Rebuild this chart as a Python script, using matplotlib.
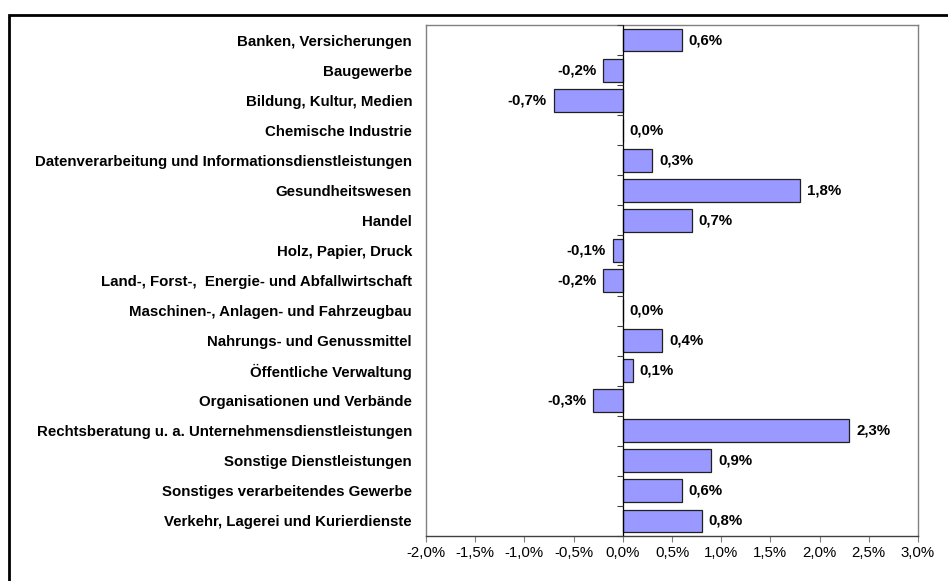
import numpy as np
import matplotlib.pyplot as plt
from matplotlib.patches import Rectangle
from matplotlib.ticker import FuncFormatter, MultipleLocator

plt.rcParams['font.family'] = ['Liberation Sans', 'DejaVu Sans']

branchen = [
    'Banken, Versicherungen',
    'Baugewerbe',
    'Bildung, Kultur, Medien',
    'Chemische Industrie',
    'Datenverarbeitung und Informationsdienstleistungen',
    'Gesundheitswesen',
    'Handel',
    'Holz, Papier, Druck',
    'Land-, Forst-,  Energie- und Abfallwirtschaft',
    'Maschinen-, Anlagen- und Fahrzeugbau',
    'Nahrungs- und Genussmittel',
    'Öffentliche Verwaltung',
    'Organisationen und Verbände',
    'Rechtsberatung u. a. Unternehmensdienstleistungen',
    'Sonstige Dienstleistungen',
    'Sonstiges verarbeitendes Gewerbe',
    'Verkehr, Lagerei und Kurierdienste',
]
werte = [0.6, -0.2, -0.7, 0.0, 0.3, 1.8, 0.7, -0.1, -0.2,
         0.0, 0.4, 0.1, -0.3, 2.3, 0.9, 0.6, 0.8]

BAR = '#9999ff'
GREY = '#808080'

def pct(v, pos=None):
    return f'{v:.1f}%'.replace('.', ',')

fig = plt.figure(figsize=(9.48, 5.81), dpi=100)
ax = fig.add_axes([426 / 948, 1 - 536 / 581, (918 - 426) / 948, (536 - 25) / 581])

y = np.arange(len(branchen))
ax.barh(y, werte, height=0.76, color=BAR, edgecolor='#202020', linewidth=0.9, zorder=2)

ax.set_xlim(-2.0, 3.0)
ax.set_ylim(len(branchen) - 0.5, -0.5)
ax.xaxis.set_major_locator(MultipleLocator(0.5))
ax.xaxis.set_major_formatter(FuncFormatter(pct))
ax.tick_params(axis='x', labelsize=10.8, length=4, width=0.8, color=GREY, pad=3)
ax.set_yticks(y)
ax.set_yticklabels(branchen, fontsize=10.8, fontweight='bold')
ax.tick_params(axis='y', length=0, pad=10)

for s in ax.spines.values():
    s.set_color(GREY)
    s.set_linewidth(1.0)
ax.spines['bottom'].set_color('#404040')

# Achse bei 0 mit kleinen Teilstrichen
ax.axvline(0, color='black', linewidth=0.9, zorder=3)
grenzen = np.arange(-0.5, len(branchen) + 0.5, 1.0)
ax.plot(np.zeros_like(grenzen), grenzen, linestyle='none', marker=0,
        markersize=4, color='#404040', markeredgewidth=0.8, zorder=3, clip_on=False)

# Wertbeschriftungen
for yi, v in zip(y, werte):
    if v < 0:
        ax.annotate(pct(v), (v, yi), xytext=(-5, 0), textcoords='offset points',
                    ha='right', va='center', fontsize=10.8, fontweight='bold')
    else:
        ax.annotate(pct(v), (v, yi), xytext=(5, 0), textcoords='offset points',
                    ha='left', va='center', fontsize=10.8, fontweight='bold')

# dicker Rahmen um die Grafik (rechts und unten abgeschnitten)
fig.add_artist(Rectangle((9 / 948, -0.2), 1.5, 1.2 - 15 / 581,
                         transform=fig.transFigure, fill=False,
                         edgecolor='black', linewidth=2.0))

fig.savefig('out.png', dpi=100)
